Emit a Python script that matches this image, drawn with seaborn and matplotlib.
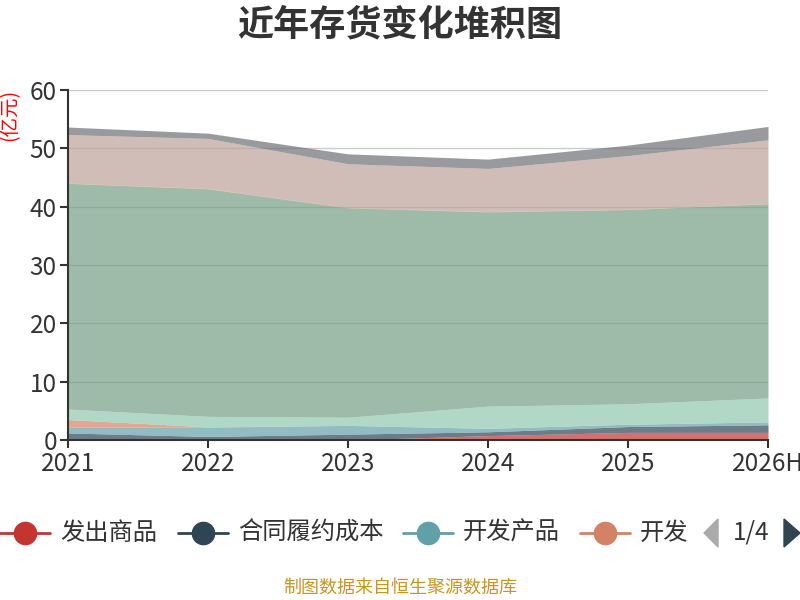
import numpy as np
import pandas as pd
import seaborn as sns
import matplotlib.pyplot as plt
from matplotlib.lines import Line2D
from matplotlib.patches import Polygon

# 数据
years = ['2021', '2022', '2023', '2024', '2025', '2026H']
names = ['发出商品', '合同履约成本', '开发产品', '开发成本', '库存商品',
         '原材料', '其他', '在产品', '周转材料']
fachu = [0, 0, 0, 0.75, 1.3, 1.3]
hetong = [1.2, 0.6, 1.0, 0.65, 1.0, 1.3]
kaifa_cp = [1.0, 1.6, 1.5, 0.6, 0.4, 0.5]
kaifa_cb = [1.3, 0.05, 0, 0, 0, 0]
kucun = [1.8, 1.8, 1.4, 3.8, 3.5, 4.1]
yuancl = [38.7, 39.0, 35.9, 33.3, 33.3, 33.3]
qita = [0.05, 0.05, 0.05, 0.05, 0.05, 0.05]
zaichan = [8.3, 8.6, 7.5, 7.4, 9.2, 10.9]
zhouzhuan = [1.3, 0.9, 1.7, 1.6, 1.8, 2.3]

colors = ['#c23531', '#2f4554', '#61a0a8', '#d48265', '#91c7ae',
          '#749f83', '#ca8622', '#bda29a', '#6e7074']

df = pd.DataFrame({'year': years})
for n, v in zip(names, [fachu, hetong, kaifa_cp, kaifa_cb, kucun, yuancl,
                        qita, zaichan, zhouzhuan]):
    df[n] = v

sns.set_theme(style='white')
plt.rcParams['font.family'] = ['Noto Sans CJK SC', 'DejaVu Sans']

fig = plt.figure(figsize=(8, 6), dpi=100)
ax = fig.add_axes([0.085, 0.2667, 0.875, 0.5833])

x = np.arange(len(years))
ax.stackplot(x, *[df[n] for n in names], colors=colors, alpha=0.7,
             linewidth=0, zorder=2)

ax.set_xlim(0, len(years) - 1)
ax.set_ylim(0, 60)
ax.set_yticks(range(0, 61, 10))
ax.set_xticks(x)
ax.set_xticklabels(years)
ax.grid(axis='y', color='#cccccc', linewidth=1, zorder=0)
ax.set_axisbelow(True)

for s in ['top', 'right']:
    ax.spines[s].set_visible(False)
for s in ['left', 'bottom']:
    ax.spines[s].set_color('#333333')
    ax.spines[s].set_linewidth(1.5)
ax.tick_params(axis='both', which='both', length=6, width=1.5, color='#333333',
               labelsize=17.5, labelcolor='#333333', direction='out',
               bottom=True, left=True, pad=2)

fig.text(0.5, 0.958, '近年存货变化堆积图', ha='center', va='center',
         fontsize=26, fontweight='bold', color='#333333')
fig.text(0.012, 0.808, '(亿元)', ha='center', va='center', rotation=90,
         fontsize=14, color='red')
fig.text(0.5, 0.02, '制图数据来自恒生聚源数据库', ha='center', va='center',
         fontsize=13, color='#c8961e')

# 图例（第1页）
leg_y = 1 - 533 / 600
starts = [0, 178, 403, 580]
for i, st in enumerate(starts):
    fig.add_artist(Line2D([st / 800, (st + 50) / 800], [leg_y, leg_y],
                          color=colors[i], linewidth=2,
                          transform=fig.transFigure))
    fig.add_artist(Line2D([(st + 25) / 800], [leg_y], marker='o',
                          markersize=16, color=colors[i],
                          transform=fig.transFigure))
    label = names[i] if i < 3 else '开发'
    fig.text((st + 60) / 800, leg_y, label, ha='left', va='center',
             fontsize=17.5, color='#333333')

fig.add_artist(Polygon([[704 / 800, leg_y], [718 / 800, leg_y + 14 / 600],
                        [718 / 800, leg_y - 14 / 600]], closed=True,
                       color='#aaaaaa', transform=fig.transFigure))
fig.add_artist(Polygon([[800 / 800, leg_y], [784 / 800, leg_y + 14 / 600],
                        [784 / 800, leg_y - 14 / 600]], closed=True,
                       color='#2f4554', transform=fig.transFigure))
fig.text(751 / 800, leg_y, '1/4', ha='center', va='center', fontsize=17.5,
         color='#333333')

fig.savefig('out.png', dpi=100)
